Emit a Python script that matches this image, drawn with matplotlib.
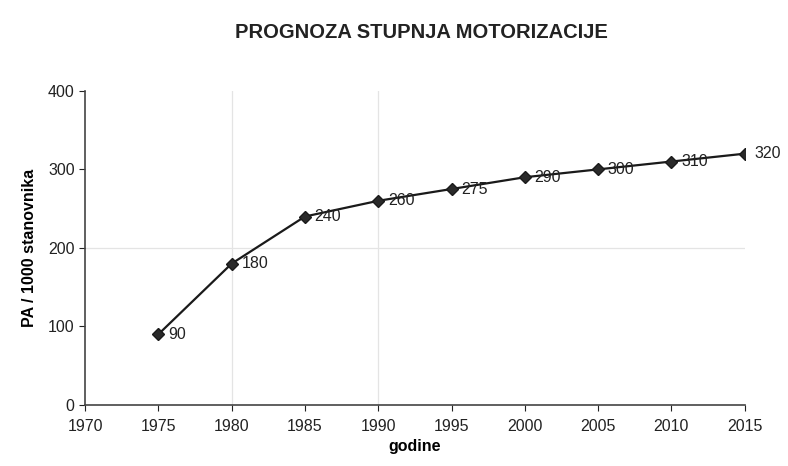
import matplotlib
matplotlib.use('Agg')
import matplotlib.pyplot as plt

# podaci
godine = [1975, 1980, 1985, 1990, 1995, 2000, 2005, 2010, 2015]
pa_1000 = [90, 180, 240, 260, 275, 290, 300, 310, 320]
x_ticks = [1970, 1975, 1980, 1985, 1990, 1995, 2000, 2005, 2010, 2015]
y_ticks = [0, 100, 200, 300, 400]

plt.rcParams['font.family'] = ['Liberation Sans', 'DejaVu Sans']

fig = plt.figure(figsize=(7.88, 4.66), dpi=100)
ax = fig.add_axes([0.108, 0.131, 0.837, 0.674])

# svijetle linije mreze
for g in [1980, 1990]:
    ax.axvline(g, color='#e4e4e4', lw=0.9, zorder=0)
ax.axhline(200, color='#e4e4e4', lw=0.9, zorder=0)

ax.plot(godine, pa_1000, color='#1a1a1a', lw=1.6, marker='D', ms=6.5,
        markerfacecolor='#2a2a2a', markeredgecolor='#1a1a1a', zorder=3)

for g, v in zip(godine, pa_1000):
    ax.annotate(str(v), (g, v), xytext=(7, 0), textcoords='offset points',
                fontsize=11.5, color='#222222', va='center', ha='left')

ax.set_xlim(1970, 2015)
ax.set_ylim(0, 400)
ax.set_xticks(x_ticks)
ax.set_yticks(y_ticks)
ax.tick_params(labelsize=11.5, colors='#222222', length=4, direction='out')
ax.tick_params(axis='x', pad=6)

for s in ['top', 'right']:
    ax.spines[s].set_visible(False)
for s in ['left', 'bottom']:
    ax.spines[s].set_color('#444444')
    ax.spines[s].set_linewidth(1.2)

ax.set_xlabel('godine', fontsize=11.5, fontweight='bold', labelpad=4)
ax.set_ylabel('PA / 1000 stanovnika', fontsize=11.5, fontweight='bold', labelpad=8)

fig.suptitle('PROGNOZA STUPNJA MOTORIZACIJE', x=0.535, y=0.95,
             fontsize=14.5, fontweight='bold', color='#222222')

fig.savefig('out.png', dpi=100, facecolor='white')
